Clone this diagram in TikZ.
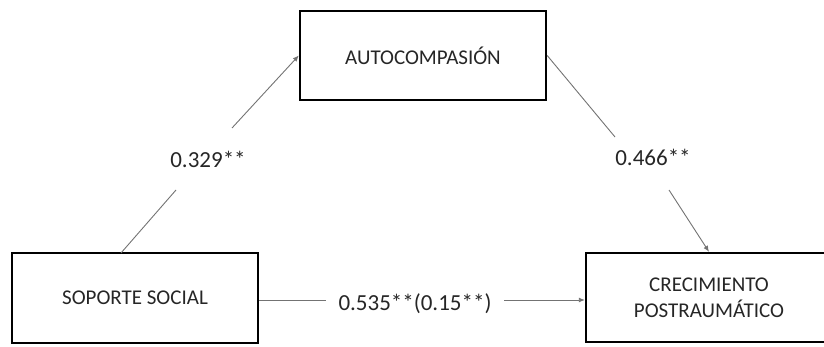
\documentclass[tikz,border=0pt]{standalone}
\usepackage{fontspec}
\setmainfont{Carlito}
\usetikzlibrary{arrows.meta}
\begin{document}
\begin{tikzpicture}[x=1pt,y=-1pt,
  box/.style={draw=black,line width=2.4pt,minimum width=246pt,inner sep=0pt,align=center,
    font=\fontsize{21}{26}\selectfont,text=black!85},
  lab/.style={font=\fontsize{23}{27}\selectfont,text=black!85,inner sep=0pt},
  conn/.style={draw=black!55,line width=0.9pt},
  arr/.style={conn,-{Latex[length=6pt,width=5pt]}}]
\useasboundingbox (0,0) rectangle (824,347);
\clip (0,0) rectangle (824,347);
\node[box,minimum height=89pt] (auto) at (423,55.5) {AUTOCOMPASIÓN};
\node[box,minimum height=90pt] (sop) at (135,298) {SOPORTE SOCIAL};
\node[box,minimum height=89pt] (crec) at (709,297.5) {CRECIMIENTO\\POSTRAUMÁTICO};
\node[lab] (l1) at (208,159) {0.329**};
\node[lab] (l2) at (653,157) {0.466**};
\node[lab] (l3) at (415,304) {0.535**(0.15**)};
\coordinate (c1a) at (121,253);
\coordinate (c1b) at (176,190);
\coordinate (c1c) at (232,128);
\coordinate (c2b) at (615,137);
\coordinate (c2c) at (669,190);
\coordinate (c3a) at (326,300);
\coordinate (c3b) at (504,300);
\draw[conn] (c1a) -- (c1b);
\draw[arr] (c1c) -- (auto.west);
\draw[conn] (auto.east) -- (c2b);
\draw[arr] (c2c) -- (crec.north);
\draw[conn] (sop.east |- c3a) -- (c3a);
\draw[arr] (c3b) -- (crec.west |- c3b);
\end{tikzpicture}
\end{document}
